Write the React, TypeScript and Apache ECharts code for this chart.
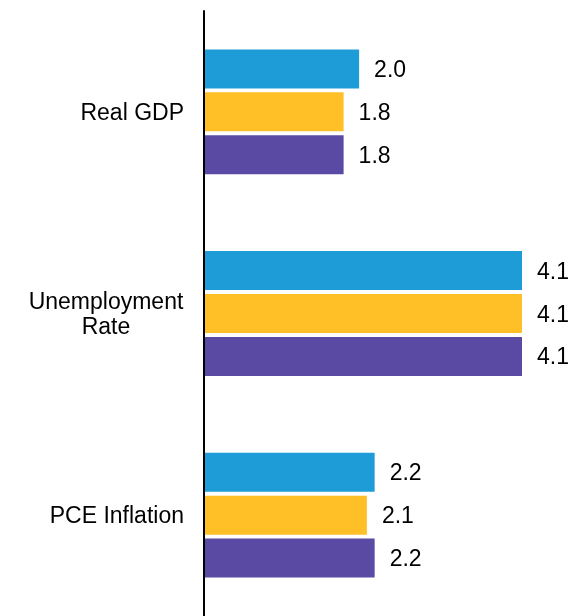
import React, { useEffect, useRef } from "react";
import * as echarts from "echarts";

const categories = ["Real GDP", "Unemployment\nRate", "PCE Inflation"];
const seriesNames = ["Series A", "Series B", "Series C"];
const seriesA = [2.0, 4.1, 2.2];
const seriesB = [1.8, 4.1, 2.1];
const seriesC = [1.8, 4.1, 2.2];
const colors = ["#1E9CD7", "#FFBF27", "#5A4AA3"];

export default function App() {
  const ref = useRef<HTMLDivElement>(null);
  useEffect(() => {
    if (!ref.current) return;
    const chart = echarts.init(ref.current, null, { renderer: "svg" });
    const font = "Arial, 'Liberation Sans', sans-serif";
    const values = [seriesA, seriesB, seriesC];
    chart.setOption({
      animation: false,
      grid: { left: 204, top: 11, width: 318, height: 608 },
      xAxis: {
        type: "value",
        min: 0,
        max: 4.1,
        show: false,
      },
      yAxis: {
        type: "category",
        inverse: true,
        data: categories,
        z: 5,
        axisTick: { show: false },
        axisLine: { show: true, lineStyle: { color: "#000", width: 2 } },
        splitLine: { show: false },
        axisLabel: {
          margin: 20,
          color: "#000",
          fontSize: 23,
          lineHeight: 25,
          fontFamily: font,
          formatter: (v: string) =>
            v.includes("\n")
              ? v.split("\n").map((l) => `{c|${l}}`).join("\n")
              : v,
          rich: {
            c: {
              width: 156,
              align: "center",
              fontSize: 23,
              lineHeight: 25,
              color: "#000",
              fontFamily: font,
            },
          },
        },
      },
      series: values.map((d, i) => ({
        name: seriesNames[i],
        type: "bar",
        data: d,
        barWidth: 39,
        barGap: "10%",
        itemStyle: { color: colors[i] },
        label: {
          show: true,
          position: "right",
          distance: 15,
          color: "#000",
          fontSize: 23,
          fontFamily: font,
          formatter: (p: any) => Number(p.value).toFixed(1),
        },
      })),
    });
    return () => chart.dispose();
  }, []);
  return (
    <div
      ref={ref}
      style={{ position: "fixed", left: 0, top: 0, width: 573, height: 616 }}
    />
  );
}
